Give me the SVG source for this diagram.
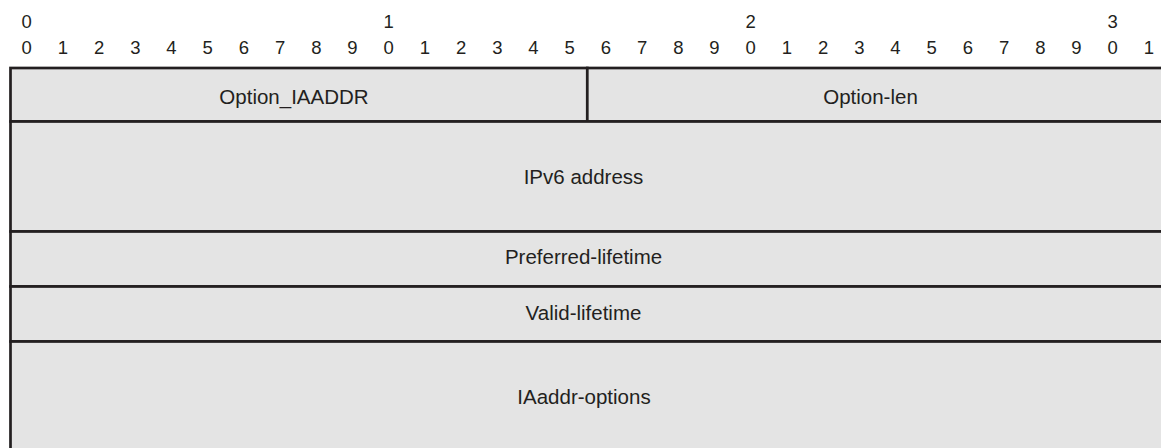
<svg xmlns="http://www.w3.org/2000/svg" width="1161" height="448" viewBox="0 0 1161 448">
  <style>
    .field { fill: #e4e4e4; stroke: #231f20; stroke-width: 2.7; }
    .label { font-family: "Liberation Sans", Arial, sans-serif; font-size: 20.5px; fill: #231f20; text-anchor: middle; }
    .bit { font-family: "Liberation Sans", Arial, sans-serif; font-size: 18.5px; fill: #231f20; text-anchor: middle; }
  </style>
  <rect x="0" y="0" width="1161" height="448" fill="#ffffff"/>
  <g id="bit-ruler">
    <text class="bit" x="26.7" y="28.3">0</text>
    <text class="bit" x="388.7" y="28.3">1</text>
    <text class="bit" x="750.7" y="28.3">2</text>
    <text class="bit" x="1112.7" y="28.3">3</text>
    <text class="bit" x="26.7" y="54">0</text>
    <text class="bit" x="62.9" y="54">1</text>
    <text class="bit" x="99.1" y="54">2</text>
    <text class="bit" x="135.3" y="54">3</text>
    <text class="bit" x="171.5" y="54">4</text>
    <text class="bit" x="207.7" y="54">5</text>
    <text class="bit" x="243.9" y="54">6</text>
    <text class="bit" x="280.1" y="54">7</text>
    <text class="bit" x="316.3" y="54">8</text>
    <text class="bit" x="352.5" y="54">9</text>
    <text class="bit" x="388.7" y="54">0</text>
    <text class="bit" x="424.9" y="54">1</text>
    <text class="bit" x="461.1" y="54">2</text>
    <text class="bit" x="497.3" y="54">3</text>
    <text class="bit" x="533.5" y="54">4</text>
    <text class="bit" x="569.7" y="54">5</text>
    <text class="bit" x="605.9" y="54">6</text>
    <text class="bit" x="642.1" y="54">7</text>
    <text class="bit" x="678.3" y="54">8</text>
    <text class="bit" x="714.5" y="54">9</text>
    <text class="bit" x="750.7" y="54">0</text>
    <text class="bit" x="786.9" y="54">1</text>
    <text class="bit" x="823.1" y="54">2</text>
    <text class="bit" x="859.3" y="54">3</text>
    <text class="bit" x="895.5" y="54">4</text>
    <text class="bit" x="931.7" y="54">5</text>
    <text class="bit" x="967.9" y="54">6</text>
    <text class="bit" x="1004.1" y="54">7</text>
    <text class="bit" x="1040.3" y="54">8</text>
    <text class="bit" x="1076.5" y="54">9</text>
    <text class="bit" x="1112.7" y="54">0</text>
    <text class="bit" x="1148.9" y="54">1</text>
  </g>
  <g id="option-iaaddr">
    <rect class="field" x="10.5" y="68" width="576.8" height="53.5"/>
    <text class="label" x="294" y="103.5">Option_IAADDR</text>
  </g>
  <g id="option-len">
    <rect class="field" x="587.3" y="68" width="620" height="53.5"/>
    <text class="label" x="870.5" y="104">Option-len</text>
  </g>
  <g id="ipv6-address">
    <rect class="field" x="10.5" y="121.5" width="1200" height="110"/>
    <text class="label" x="583.5" y="184">IPv6 address</text>
  </g>
  <g id="preferred-lifetime">
    <rect class="field" x="10.5" y="231.5" width="1200" height="55"/>
    <text class="label" x="583.5" y="264">Preferred-lifetime</text>
  </g>
  <g id="valid-lifetime">
    <rect class="field" x="10.5" y="286.5" width="1200" height="55"/>
    <text class="label" x="583.5" y="320">Valid-lifetime</text>
  </g>
  <g id="iaaddr-options">
    <rect class="field" x="10.5" y="341.5" width="1200" height="130"/>
    <text class="label" x="584" y="403.5">IAaddr-options</text>
  </g>
  <g id="connectors"/>
</svg>
